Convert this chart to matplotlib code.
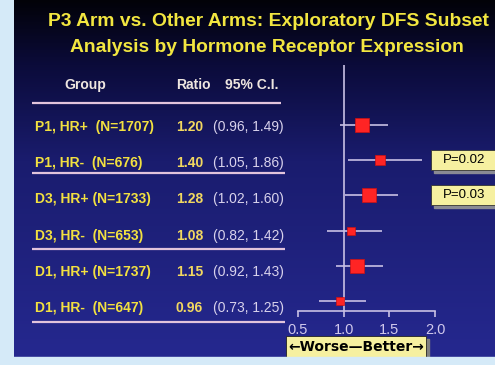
import numpy as np
import matplotlib.pyplot as plt
from matplotlib.colors import LinearSegmentedColormap
from matplotlib.patches import Rectangle

plt.rcParams['font.family'] = ['Liberation Sans', 'DejaVu Sans']

title = "P3 Arm vs. Other Arms: Exploratory DFS Subset\nAnalysis by Hormone Receptor Expression"
groups = ["P1, HR+  (N=1707)", "P1, HR-  (N=676)", "D3, HR+ (N=1733)",
          "D3, HR-  (N=653)", "D1, HR+ (N=1737)", "D1, HR-  (N=647)"]
n_pts = np.array([1707, 676, 1733, 653, 1737, 647])
ratio = np.array([1.20, 1.40, 1.28, 1.08, 1.15, 0.96])
ci_lo = np.array([0.96, 1.05, 1.02, 0.82, 0.92, 0.73])
ci_hi = np.array([1.49, 1.86, 1.60, 1.42, 1.43, 1.25])
p_rows = [1, 2]
p_text = ["P=0.02", "P=0.03"]
xticks = [0.5, 1.0, 1.5, 2.0]

W, H = 495, 365
fig = plt.figure(figsize=(W / 100, H / 100), dpi=100)
fig.patch.set_facecolor('#d5eaf8')

# slide background: black at the top fading into navy
bg = fig.add_axes([14 / W, 8 / H, (W - 14) / W, (H - 8) / H])
cmap = LinearSegmentedColormap.from_list(
    'slide', [(0, '#020208'), (0.18, '#0b0b3a'), (0.45, '#1a1c6e'), (1, '#25288f')])
bg.imshow(np.linspace(0, 1, 256)[:, None], aspect='auto', cmap=cmap,
          extent=[0, 1, 1, 0])
bg.set_axis_off()

# layout axes in pixel units for the table
lay = fig.add_axes([0, 0, 1, 1], facecolor='none')
lay.set_xlim(0, W)
lay.set_ylim(H, 0)
lay.set_axis_off()

lay.text(268, 22, title.split('\n')[0], ha='center', va='center',
         color='#f2e640', fontsize=13.9, fontweight='bold')
lay.text(267, 47, title.split('\n')[1], ha='center', va='center',
         color='#f2e640', fontsize=13.9, fontweight='bold')

hdr = '#eee6e0'
lay.text(85, 85, "Group", ha='center', va='center', color=hdr, fontsize=10, fontweight='bold')
lay.text(176, 85, "Ratio", ha='left', va='center', color=hdr, fontsize=10, fontweight='bold')
lay.text(225, 85, "95% C.I.", ha='left', va='center', color=hdr, fontsize=10, fontweight='bold')

for i, g in enumerate(groups):
    y = 127 + 36.2 * i
    lay.text(35, y, g, ha='left', va='center', color='#f2e040', fontsize=10, fontweight='bold')
    lay.text(176, y, f"{ratio[i]:.2f}", ha='left', va='center', color='#f2d860',
             fontsize=10, fontweight='bold')
    lay.text(213, y, f"({ci_lo[i]:.2f}, {ci_hi[i]:.2f})", ha='left', va='center',
             color='#d8d2ec', fontsize=10)

for y, x1 in [(103, 281), (173, 285), (249, 285), (322, 285)]:
    lay.plot([32, x1], [y, y], color='#e2c4dc', lw=1.6, solid_capstyle='butt')

# forest plot
ppu = 91.3
row_px = 35.2
ax = fig.add_axes([280 / W, (H - 311) / H, (W - 280) / W, (311 - 65) / H], facecolor='none')
ax.set_xlim(0.5 - 18 / ppu, 2.0 + 60 / ppu)
ax.set_ylim(5 + 10 / row_px, -60 / row_px)
rows = np.arange(len(ratio))

ax.axvline(1.0, color='#c8c0e4', lw=1.2)
ax.hlines(rows, ci_lo, ci_hi, color='#c8c0e4', lw=1.2)
sizes = 10.5 * np.sqrt(n_pts / n_pts.max())
for r, x, s in zip(rows, ratio, sizes):
    ax.plot(x, r, 's', ms=s, color='#ff2424', mec='#d01010', mew=0.5)

# p-value flags running off the right edge
for r, t in zip(p_rows, p_text):
    ax.add_patch(Rectangle((1.985, r + 0.2), 0.7, 0.16, color='#8a8a94',
                           clip_on=False, zorder=2))
    ax.add_patch(Rectangle((1.955, r - 0.3), 0.75, 0.57, fc='#f6f0a0', ec='#333333',
                           lw=0.6, clip_on=False, zorder=3))
    ax.text(2.32, r, t, ha='center', va='center', fontsize=9.5, color='black', zorder=4)

for s in ['top', 'right', 'left']:
    ax.spines[s].set_visible(False)
ax.spines['bottom'].set_color('#c8c0e4')
ax.spines['bottom'].set_linewidth(1.2)
ax.spines['bottom'].set_bounds(0.5, 2.0)
ax.set_xticks(xticks)
ax.set_xticklabels([f"{t:.1f}" for t in xticks])
ax.tick_params(axis='x', colors='#c8c0e4', labelcolor='#d0c8ec', labelsize=10.5,
               length=4, width=1.2, pad=5)
ax.set_yticks([])

# worse / better key
lay.add_patch(Rectangle((289, 339), 140, 20, color='#808080'))
lay.add_patch(Rectangle((286, 336), 140, 21, fc='#f6f0a0', ec='#222222', lw=0.6))
lay.text(356, 347, "\u2190Worse\u2014Better\u2192", ha='center', va='center',
         fontsize=10, fontweight='bold', color='black',
         family=['DejaVu Sans'])
lay.add_patch(Rectangle((0, 357), W, 8, color='#d5eaf8'))

fig.savefig('out.png', dpi=100)
